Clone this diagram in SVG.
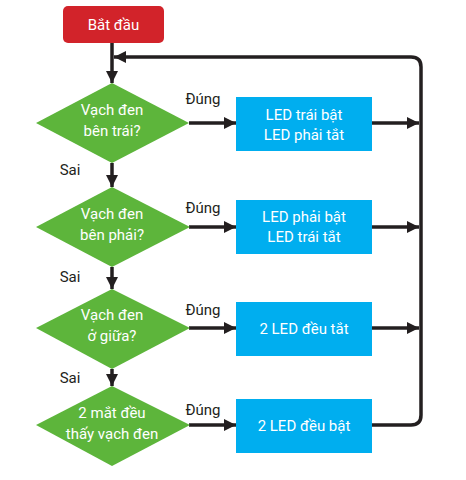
<svg xmlns="http://www.w3.org/2000/svg" width="466" height="480" viewBox="0 0 466 480">
<defs>
<marker id="ah" markerWidth="12" markerHeight="12" viewBox="0 0 12 12" refX="12" refY="6" orient="auto" markerUnits="userSpaceOnUse">
<path d="M0,0 L12,6 L0,12 Z" fill="#231f20"/>
</marker>
<style>
.t{font-family:Roboto,"Liberation Sans",sans-serif;font-size:15px;text-anchor:middle}
.w{fill:#ffffff}
.k{fill:#231f20}
.dia{fill:#5db53b}
.box{fill:#00aeef}
.ln{fill:none;stroke:#231f20;stroke-width:3.5}
</style>
</defs>
<rect width="466" height="480" fill="#ffffff"/>
<g id="connectors">
<path class="ln" d="M112,43 V83" marker-end="url(#ah)"/>
<path class="ln" d="M112,163 V187" marker-end="url(#ah)"/>
<path class="ln" d="M112,267 V289" marker-end="url(#ah)"/>
<path class="ln" d="M112,369 V386" marker-end="url(#ah)"/>
<path class="ln" d="M189,123 H236" marker-end="url(#ah)"/>
<path class="ln" d="M189,227 H236" marker-end="url(#ah)"/>
<path class="ln" d="M189,328 H236" marker-end="url(#ah)"/>
<path class="ln" d="M189,425 H236" marker-end="url(#ah)"/>
<path class="ln" d="M372,123 H419" marker-end="url(#ah)"/>
<path class="ln" d="M372,227 H419" marker-end="url(#ah)"/>
<path class="ln" d="M372,328 H419" marker-end="url(#ah)"/>
<path class="ln" d="M372,425 H411 Q421,425 421,415 V67 Q421,57 411,57 H114" marker-end="url(#ah)"/>
<text class="t k" x="203" y="104">Đúng</text>
<text class="t k" x="203" y="213">Đúng</text>
<text class="t k" x="203" y="315">Đúng</text>
<text class="t k" x="203" y="415">Đúng</text>
<text class="t k" x="70" y="175">Sai</text>
<text class="t k" x="70" y="282">Sai</text>
<text class="t k" x="70" y="383">Sai</text>
</g>
<g id="start">
<rect x="63" y="6" width="101" height="37" rx="5" fill="#d2232a"/>
<text class="t w" x="113.5" y="29.5">Bắt đầu</text>
</g>
<g id="d1">
<path class="dia" d="M112,83 L189,123 L112,163 L36,123 Z"/>
<text class="t w" x="112" y="115">Vạch đen</text>
<text class="t w" x="112" y="136">bên trái?</text>
</g>
<g id="d2">
<path class="dia" d="M112,187 L190,227 L112,267 L36,227 Z"/>
<text class="t w" x="112" y="219">Vạch đen</text>
<text class="t w" x="112" y="240">bên phải?</text>
</g>
<g id="d3">
<path class="dia" d="M112,289 L190,328 L112,369 L36,328 Z"/>
<text class="t w" x="112" y="320">Vạch đen</text>
<text class="t w" x="112" y="341">ở giữa?</text>
</g>
<g id="d4">
<path class="dia" d="M112,386 L190,425 L112,466 L36,425 Z"/>
<text class="t w" x="112" y="418">2 mắt đều</text>
<text class="t w" x="112" y="439">thấy vạch đen</text>
</g>
<g id="b1">
<rect class="box" x="236" y="97" width="136" height="54"/>
<text class="t w" x="304" y="120">LED trái bật</text>
<text class="t w" x="304" y="140">LED phải tắt</text>
</g>
<g id="b2">
<rect class="box" x="236" y="200" width="136" height="54"/>
<text class="t w" x="304" y="222">LED phải bật</text>
<text class="t w" x="304" y="242">LED trái tắt</text>
</g>
<g id="b3">
<rect class="box" x="236" y="302" width="136" height="54"/>
<text class="t w" x="304" y="334">2 LED đều tắt</text>
</g>
<g id="b4">
<rect class="box" x="236" y="399" width="136" height="54"/>
<text class="t w" x="304" y="431">2 LED đều bật</text>
</g>
</svg>
